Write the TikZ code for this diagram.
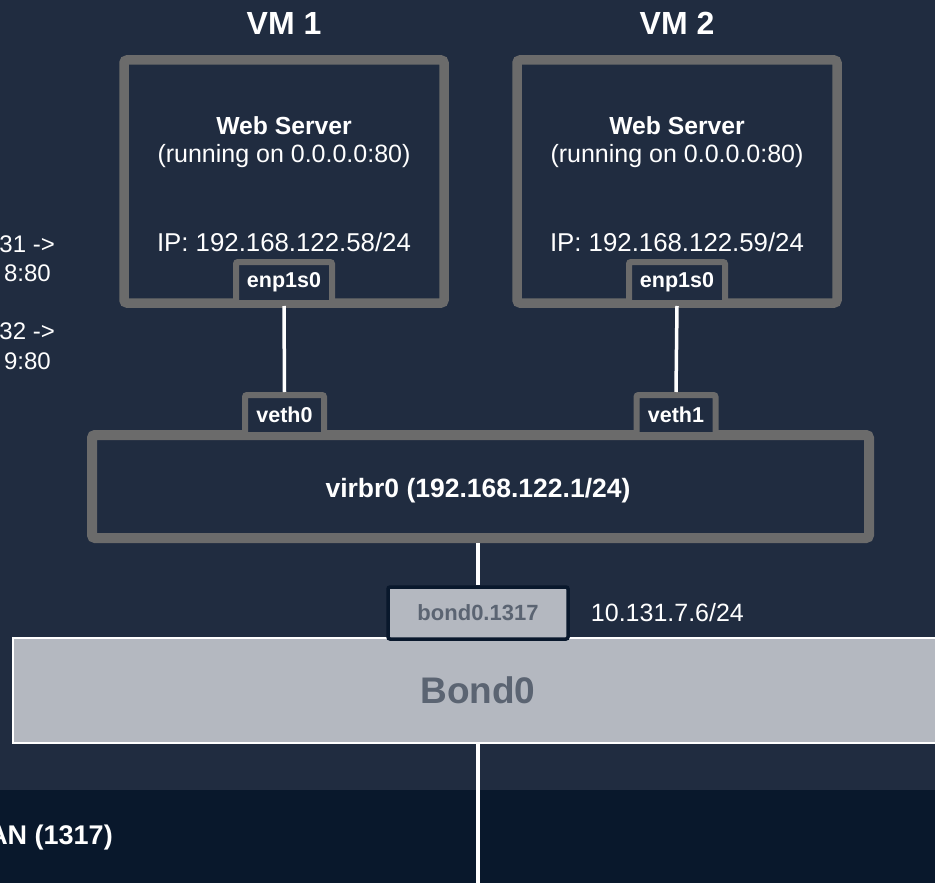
\documentclass[tikz,border=0pt]{standalone}
\usepackage{fontspec}
\setmainfont{Liberation Sans}
\usetikzlibrary{positioning}
\definecolor{navy}{RGB}{32,44,64}
\definecolor{deepnavy}{RGB}{9,24,44}
\definecolor{boxgray}{RGB}{107,107,107}
\definecolor{bondfill}{RGB}{180,184,192}
\definecolor{bondtext}{RGB}{91,100,114}
\newcommand{\pxsize}[1]{\fontsize{#1}{#1}\selectfont}

\begin{document}
\begin{tikzpicture}[x=1pt, y=-1pt,
  txt/.style={text=white, inner sep=0pt, font=\pxsize{25}},
  title/.style={text=white, inner sep=0pt, font=\pxsize{32}\bfseries},
  vm/.style={draw=boxgray, line width=9.5pt, fill=navy, rounded corners=3pt, minimum width=320pt, minimum height=243pt},
  port/.style={draw=boxgray, line width=6pt, fill=navy, rounded corners=2pt, text=white, inner sep=0pt,
    font=\pxsize{21.5}\bfseries, minimum width=96pt, minimum height=41pt},
  bridge/.style={draw=boxgray, line width=10pt, fill=navy, rounded corners=3pt, minimum width=777pt, minimum height=103pt},
  tag/.style={draw=deepnavy, line width=3.5pt, fill=bondfill, rounded corners=2pt, text=bondtext, inner sep=0pt,
    font=\pxsize{22}\bfseries, minimum width=180pt, minimum height=52pt},
  bond/.style={draw=white, line width=2.5pt, fill=bondfill, text=bondtext, inner sep=0pt,
    font=\pxsize{37}\bfseries, minimum width=930pt, minimum height=105pt},
  wire/.style={draw=white, line width=3.5pt}]
\useasboundingbox (0,0) rectangle (935,883);
\clip (0,0) rectangle (935,883);
\fill[navy] (0,0) rectangle (935,790);
\fill[deepnavy] (0,790) rectangle (935,883);

\node[txt, anchor=east, font=\pxsize{24}] (fwd1) at (55,244) {31 ->};
\node[txt, anchor=east, font=\pxsize{24}] (dst1) at (51,273) {8:80};
\node[txt, anchor=east, font=\pxsize{24}] (fwd2) at (55,331) {32 ->};
\node[txt, anchor=east, font=\pxsize{24}] (dst2) at (51,361) {9:80};
\node[txt, anchor=east, font=\pxsize{27}\bfseries] (vlan) at (113,838) {AN (1317)};

\node[vm] (vm1) at (284,181.5) {};
\node[title, above=21pt of vm1] (vm1lbl) {VM 1};
\node[txt, font=\pxsize{24.7}\bfseries] (web1) at (284,126) {Web Server};
\node[txt] (run1) at (284,156) {(running on 0.0.0.0:80)};
\node[txt, font=\pxsize{25.8}] (ip1) at (284,242) {IP: 192.168.122.58/24};
\node[port] (enp1) at (284,282.5) {enp1s0};

\node[vm] (vm2) at (677,181.5) {};
\node[title, above=21pt of vm2] (vm2lbl) {VM 2};
\node[txt, font=\pxsize{24.7}\bfseries] (web2) at (677,126) {Web Server};
\node[txt] (run2) at (677,156) {(running on 0.0.0.0:80)};
\node[txt, font=\pxsize{25.8}] (ip2) at (677,242) {IP: 192.168.122.59/24};
\node[port] (enp2) at (677,282.5) {enp1s0};

\node[bridge] (virbr0) at (480.5,486.5) {};
\node[txt, font=\pxsize{26.5}\bfseries] (virbr0lbl) at (478,491) {virbr0 (192.168.122.1/24)};
\node[port, minimum width=79pt, minimum height=40pt] (veth0) at (284.5,415) {veth0};
\node[port, minimum width=79pt, minimum height=40pt] (veth1) at (676,415) {veth1};

\node[bond] (bond0) at (478,690.5) {Bond0};
\node[tag] (b1317) at (478,613) {bond0.1317};
\node[txt, right=21pt of b1317] (addr) {10.131.7.6/24};
\coordinate (uplink) at (478,883);

\draw[wire] (enp1.south) -- (veth0.north);
\draw[wire] (enp2.south) -- (veth1.north);
\draw[wire] (b1317.north |- virbr0.south) -- (b1317.north);
\draw[wire] (bond0.south) -- (uplink);
\end{tikzpicture}
\end{document}
